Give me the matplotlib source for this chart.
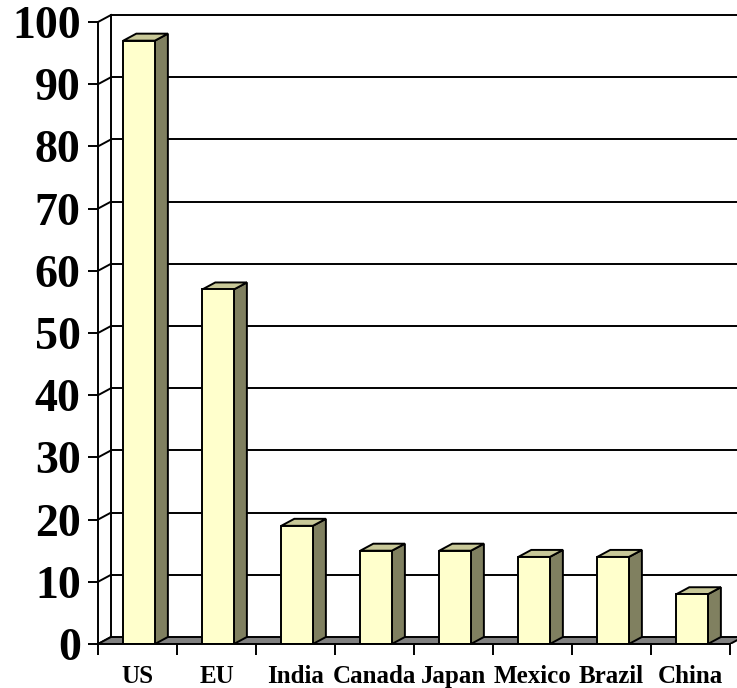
import matplotlib
matplotlib.use("Agg")
import matplotlib.pyplot as plt
from matplotlib.patches import Polygon

categories = ["US", "EU", "India", "Canada", "Japan", "Mexico", "Brazil", "China"]
values = [97, 57, 19, 15, 15, 14, 14, 8]
yticks = [0, 10, 20, 30, 40, 50, 60, 70, 80, 90, 100]

FRONT = "#FFFFCC"
SIDE = "#808060"
TOP = "#C8C898"
FLOOR = "#808080"

W, H, DPI = 737, 688, 100
fig = plt.figure(figsize=(W / DPI, H / DPI), dpi=DPI)

n = len(categories)
px_per_cat = 79.0
px_per_unit = 6.22
ymax = 102
xmax = n + 0.25
left_px, bottom_px = 98, 44
ax = fig.add_axes([left_px / W, bottom_px / H,
                   xmax * px_per_cat / W, ymax * px_per_unit / H])
ax.set_xlim(0, xmax)
ax.set_ylim(0, ymax)

# depth offsets (in data units)
dx = 13 / px_per_cat
dy = 7 / px_per_unit
lw = 1.4

# back wall and side wall
for v in yticks:
    if v > 0:
        ax.plot([dx, xmax + 1], [v + dy, v + dy], color="black", lw=lw, zorder=1,
                solid_capstyle="butt")
    ax.plot([0, dx], [v, v + dy], color="black", lw=lw, zorder=1)
ax.plot([dx, dx], [dy, yticks[-1] + dy], color="black", lw=lw, zorder=1)

# floor
ax.add_patch(Polygon([(0, 0), (n, 0), (n + dx, dy), (dx, dy)], closed=True,
                     facecolor=FLOOR, edgecolor="black", lw=lw, zorder=2))

# bars
bw = 0.4
for i, v in enumerate(values):
    x0 = i + 0.5 - bw / 2 + 0.02
    x1 = x0 + bw
    ax.add_patch(Polygon([(x1, 0), (x1 + dx, dy), (x1 + dx, v + dy), (x1, v)],
                         closed=True, facecolor=SIDE, edgecolor="black", lw=lw,
                         zorder=3 + i * 0.01, joinstyle="miter"))
    ax.add_patch(Polygon([(x0, v), (x0 + dx, v + dy), (x1 + dx, v + dy), (x1, v)],
                         closed=True, facecolor=TOP, edgecolor="black", lw=lw,
                         zorder=3 + i * 0.01, joinstyle="miter"))
    ax.add_patch(Polygon([(x0, 0), (x1, 0), (x1, v), (x0, v)],
                         closed=True, facecolor=FRONT, edgecolor="black", lw=lw,
                         zorder=3.005 + i * 0.01, joinstyle="miter"))

# axes styling
for s in ["top", "right"]:
    ax.spines[s].set_visible(False)
ax.spines["left"].set_bounds(0, yticks[-1])
ax.spines["bottom"].set_bounds(0, n)
ax.spines["left"].set_linewidth(lw)
ax.spines["bottom"].set_linewidth(lw)
ax.spines["left"].set_zorder(5)
ax.spines["bottom"].set_zorder(5)

ax.set_yticks(yticks)
ax.set_yticklabels([str(t) for t in yticks])
ax.tick_params(axis="y", direction="out", length=7.5, width=lw, pad=5)
for lab in ax.get_yticklabels():
    lab.set_fontfamily("Liberation Serif")
    lab.set_fontweight("bold")
    lab.set_fontsize(33)

ax.set_xticks(range(n + 1))
ax.set_xticklabels([])
ax.tick_params(axis="x", which="major", direction="out", length=8, width=lw)
ax.set_xticks([i + 0.5 for i in range(n)], minor=True)
ax.set_xticklabels(categories, minor=True)
ax.tick_params(axis="x", which="minor", length=0, pad=15)
for lab in ax.get_xticklabels(minor=True):
    lab.set_fontfamily("Liberation Serif")
    lab.set_fontweight("bold")
    lab.set_fontsize(18)

fig.savefig("out.png", dpi=DPI)
